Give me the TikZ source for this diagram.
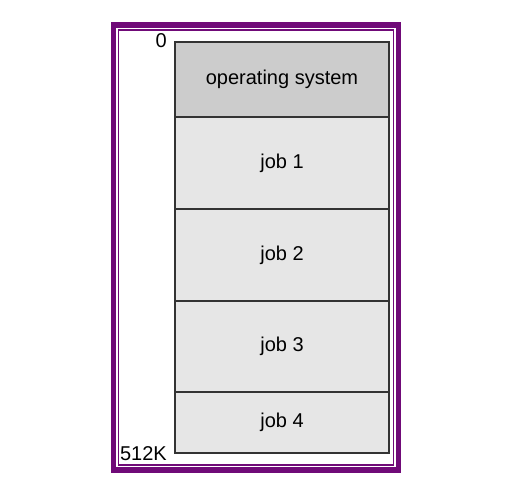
\documentclass[tikz,border=0pt]{standalone}
\usepackage{fontspec}
\setmainfont{Liberation Sans}
\definecolor{framepurple}{RGB}{112,10,120}
\definecolor{osgray}{RGB}{204,204,204}
\definecolor{jobgray}{RGB}{230,230,230}
\tikzset{
  part/.style={minimum width=213.4pt,inner sep=0pt,outer sep=0pt,anchor=north west,font=\fontsize{20}{24}\selectfont},
  partline/.style={draw=black!80,line width=1.8pt},
  addr/.style={anchor=east,inner sep=0pt,font=\fontsize{20}{24}\selectfont}
}
\begin{document}
\begin{tikzpicture}[x=1pt,y=-1pt]
      \useasboundingbox (0,0) rectangle (525,491);
      \fill[white] (0,0) rectangle (525,491);
      \draw[framepurple,line width=5.5pt] (113.7,24.8) rectangle (398.5,469.8);
      \draw[framepurple,line width=1.3pt] (118.3,30) rectangle (393.3,465);
      \node[part,fill=osgray,minimum height=75.6pt](os) at (175.3,41.7) {operating system};
      \node[part,fill=jobgray,minimum height=91.7pt](job1) at (os.south west) {job 1};
      \node[part,fill=jobgray,minimum height=91.7pt](job2) at (job1.south west) {job 2};
      \node[part,fill=jobgray,minimum height=91.6pt](job3) at (job2.south west) {job 3};
      \node[part,fill=jobgray,minimum height=60.4pt](job4) at (job3.south west) {job 4};
      \foreach \p in {os,job1,job2,job3,job4}
        \draw[partline] (\p.north west) rectangle (\p.south east);
      \node[addr](top) at (167,41) {0};
      \node[addr](bottom) at (167,453.4) {512K};
    \end{tikzpicture}
\end{document}
